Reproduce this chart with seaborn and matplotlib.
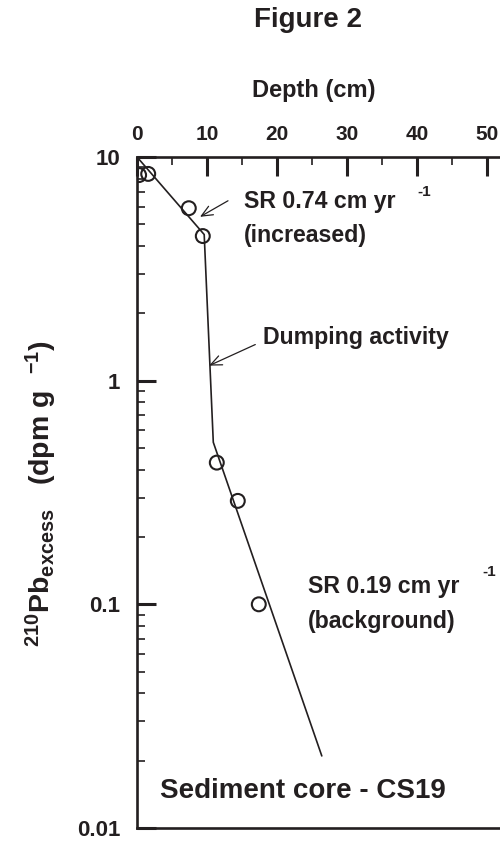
import numpy as np
import pandas as pd
import matplotlib
matplotlib.use("Agg")
import matplotlib.pyplot as plt
import matplotlib.ticker as mticker
import seaborn as sns

# Measured 210Pb excess activity profile, core CS19
depth_cm = [0.3, 1.6, 7.4, 9.4, 11.4, 14.4, 17.4]
pb_excess = [8.3, 8.4, 5.9, 4.43, 0.43, 0.29, 0.10]

# Piecewise sedimentation-rate fit (vertices)
fit_depth = [0.0, 9.6, 10.9, 26.4]
fit_activity = [10.0, 4.5, 0.53, 0.021]

x_ticks = [0, 10, 20, 30, 40, 50]
y_ticks = [0.01, 0.1, 1, 10]
y_tick_labels = ["0.01", "0.1", "1", "10"]

sns.set_theme(style="ticks")
plt.rcParams["font.family"] = ["Liberation Sans", "DejaVu Sans"]
plt.rcParams["font.weight"] = "bold"
plt.rcParams["mathtext.fontset"] = "custom"
plt.rcParams["mathtext.rm"] = "Liberation Sans:bold"
plt.rcParams["mathtext.it"] = "Liberation Sans:bold"
plt.rcParams["mathtext.bf"] = "Liberation Sans:bold"
plt.rcParams["mathtext.sf"] = "Liberation Sans:bold"

ink = "#231f20"

fig = plt.figure(figsize=(5.0, 8.48), dpi=100)
ax = fig.add_axes([0.274, 0.0236, 0.726, 0.7913])

points = pd.DataFrame({"depth": depth_cm, "pb": pb_excess})
fit = pd.DataFrame({"depth": fit_depth, "pb": fit_activity})

sns.lineplot(data=fit, x="depth", y="pb", ax=ax, color=ink, lw=1.2,
             sort=False, estimator=None)
sns.scatterplot(data=points, x="depth", y="pb", ax=ax, marker="o", s=100,
                facecolor="none", edgecolor=ink, linewidth=1.5, zorder=3)

ax.set_yscale("log")
ax.set_ylim(0.01, 10)
ax.set_xlim(0, 51.86)

ax.xaxis.tick_top()
ax.set_xticks(x_ticks)
ax.xaxis.set_minor_locator(mticker.MultipleLocator(5))
ax.set_yticks(y_ticks)
ax.set_yticklabels(y_tick_labels)
ax.yaxis.set_minor_locator(mticker.LogLocator(base=10, subs=np.arange(2, 10)))
ax.yaxis.set_minor_formatter(mticker.NullFormatter())

ax.tick_params(which="major", direction="in", length=14, width=2.2,
               color=ink, labelcolor=ink)
ax.tick_params(which="minor", direction="in", length=6, width=1.2, color=ink)
ax.tick_params(axis="x", which="both", top=True, bottom=False, pad=9,
               labelsize=15)
ax.tick_params(axis="y", which="both", left=True, right=False, pad=12,
               labelsize=16)
for lab in ax.get_xticklabels() + ax.get_yticklabels():
    lab.set_fontweight("bold")

for side in ["top", "left", "bottom"]:
    ax.spines[side].set_linewidth(1.9)
    ax.spines[side].set_color(ink)
ax.spines["right"].set_visible(False)

ax.set_xlabel("")
ax.set_ylabel("")

# Annotations
arrow_kw = dict(arrowstyle="->,head_length=0.8,head_width=0.35", lw=0.9,
                color=ink, shrinkA=0, shrinkB=0, mutation_scale=10)
ax.annotate("", xy=(9.0, 5.40), xytext=(13.0, 6.37), arrowprops=arrow_kw)
ax.annotate("", xy=(10.3, 1.167), xytext=(16.9, 1.45), arrowprops=arrow_kw)

txt = dict(color=ink, fontweight="bold", fontsize=16.7, va="center", ha="left")
sup = dict(color=ink, fontweight="bold", fontsize=11, va="center", ha="left",
           clip_on=False)
ax.text(15.3, 6.3, "SR 0.74 cm yr", **txt)
ax.text(40.0, 6.98, "-1", **sup)
ax.text(15.3, 4.44, "(increased)", **txt)
ax.text(18.0, 1.556, "Dumping activity", **txt)
ax.text(24.4, 0.120, "SR 0.19 cm yr", **txt)
ax.text(49.3, 0.139, "-1", **sup)
ax.text(24.4, 0.084, "(background)", **txt)
ax.text(3.3, 0.0146, "Sediment core - CS19", color=ink, fontweight="bold",
        fontsize=20, va="center", ha="left")

fig.text(0.616, 0.976, "Figure 2", color=ink, fontweight="bold", fontsize=20,
         ha="center", va="center")
fig.text(0.628, 0.893, "Depth (cm)", color=ink, fontweight="bold", fontsize=17,
         ha="center", va="center")
fig.text(0.082, 0.418, r"$^{210}$Pb$_{\rm excess}$   (dpm g  $^{-1}$)",
         color=ink, fontweight="bold", fontsize=20.5, rotation=90,
         ha="center", va="center")

fig.savefig("out.png", dpi=100)
